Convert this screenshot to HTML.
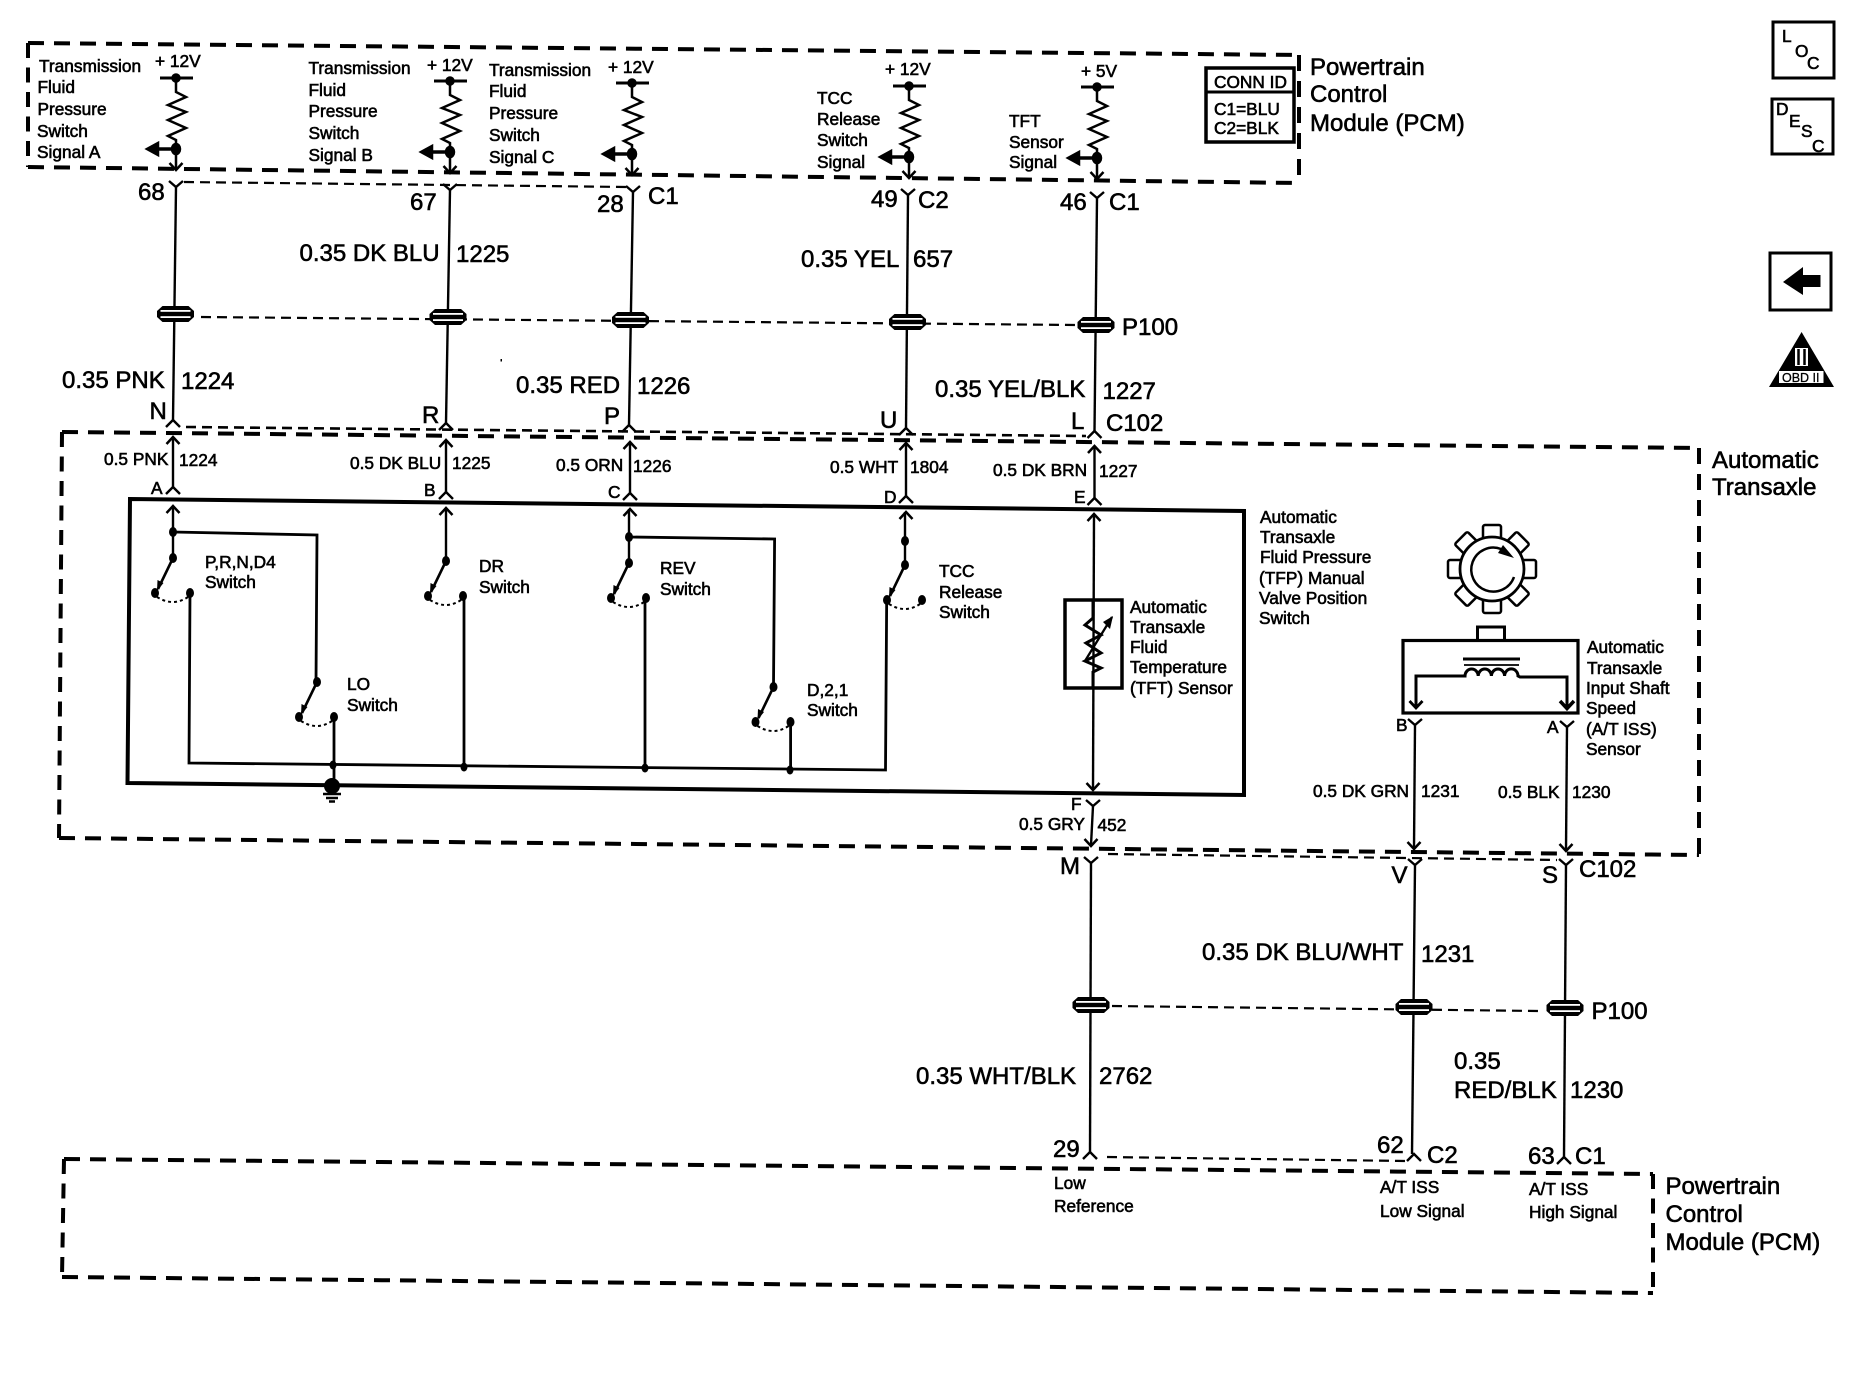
<!DOCTYPE html>
<html><head><meta charset="utf-8"><title>Transaxle wiring diagram</title>
<style>
html,body{margin:0;padding:0;background:#fff}
svg{display:block}
text{font-family:"Liberation Sans",sans-serif;fill:#000;stroke:#000;stroke-width:.6px;font-size:17.3px}
.l text,text.l{font-size:24px;stroke-width:.6px}
</style></head>
<body>
<svg width="1858" height="1376" viewBox="0 0 1858 1376" xmlns="http://www.w3.org/2000/svg">
<defs>
<g id="conn"><path d="M-13 -8H13L18.5 -3V3L13 8H-13L-18.5 3V-3Z" fill="#000"/><rect x="-15" y="-4" width="30" height="1.8" fill="#fff"/><rect x="-15" y="2.2" width="30" height="1.8" fill="#fff"/></g>
<path id="y" d="M-7 -6L0 0L7 -6" fill="none" stroke="#000" stroke-width="2.4"/>
<path id="ch" d="M-7 7L0 0L7 7" fill="none" stroke="#000" stroke-width="2.4"/>
<path id="au" d="M-6.5 7L0 0L6.5 7" fill="none" stroke="#000" stroke-width="2.5"/>
<path id="ad" d="M-6.5 -7L0 0L6.5 -7" fill="none" stroke="#000" stroke-width="2.5"/>
<g id="res" fill="none" stroke="#000" stroke-width="2.5">
<path d="M-16 0H17" stroke-width="3"/>
<path d="M0 0V14L10 19L-8 27L10 34L-8 42L10 50L-8 58L0 62V92"/>
<path d="M0 71H-18" stroke-width="3.4"/>
<path d="M-6.5 85L0 92L6.5 85"/>
<circle cx="0" cy="0" r="3.5" fill="#000"/>
<ellipse cx="0" cy="71" rx="4" ry="5" fill="#000"/>
<polygon points="-29,71 -18,65 -18,77" fill="#000"/>
</g>
<g id="sw">
<ellipse cx="0" cy="0" rx="4" ry="5" fill="#000"/>
<path d="M0 0L-15 31" stroke="#000" stroke-width="2.6" fill="none"/>
<polygon points="-16,33 -15.5,22 -9.5,25" fill="#000"/>
<ellipse cx="-18" cy="35" rx="4" ry="5" fill="#000"/>
<ellipse cx="17" cy="35" rx="4" ry="5" fill="#000"/>
<path d="M-16 39Q0 49 15 39" fill="none" stroke="#000" stroke-width="2" stroke-dasharray="3 3"/>
</g>
<rect id="tooth" x="-9" y="-44" width="18" height="16" rx="2" fill="#fff" stroke="#000" stroke-width="2.5"/>
</defs>

<!-- thick dashed module outlines -->
<g fill="none" stroke="#000" stroke-width="4" stroke-dasharray="16 10">
<path d="M28 43L1299 55"/><path d="M1299 55V183"/><path d="M28 167L1299 183"/><path d="M28 43V167" stroke-dasharray="15 9.500"/>
<path d="M62 432L1699 448"/><path d="M1699 448V855"/><path d="M59 838L1699 855"/><path d="M62 432L59 838" stroke-dasharray="15 9.500"/>
<path d="M64 1159L1653 1174"/><path d="M1653 1174V1293" stroke-dasharray="15 9.500"/><path d="M62 1277L1653 1293"/><path d="M64 1159L62 1277" stroke-dasharray="15 9.500"/>
</g>

<!-- thin dashed -->
<g fill="none" stroke="#000" stroke-width="2.200" stroke-dasharray="10 6">
<path d="M184 182L627 187"/>
<path d="M201 317L1075 325"/>
<path d="M186 427L1086 436" stroke-width="2.600"/>
<path d="M1108 854L1557 860"/>
<path d="M1112 1006L1540 1011"/>
<path d="M1107 1157L1405 1161"/>
</g>

<!-- main wires -->
<g fill="none" stroke="#000" stroke-width="2.400">
<path d="M176 187L173 420"/><path d="M450 190L446 423"/><path d="M633 192L629 425"/><path d="M908 195L906 428"/><path d="M1097 198L1094.500 431"/>
<path d="M173 437V487"/><path d="M446 440V492"/><path d="M630 442V493"/><path d="M906 443V496"/><path d="M1094.500 446V498"/>
<path d="M173 506V558"/><path d="M446 508V561"/><path d="M629 509V563"/><path d="M905 512V565"/><path d="M1094 514L1093 790"/>
<path d="M1093 806L1091 845"/><path d="M1091 863L1090 1152"/>
<path d="M1415 725L1414 848"/><path d="M1567 727L1566 850"/><path d="M1415 865L1412 1154"/><path d="M1566 865L1564 1157"/>
</g>
<use href="#y" x="176" y="187"/><use href="#y" x="450" y="190"/><use href="#y" x="633" y="192"/><use href="#y" x="908" y="195"/><use href="#y" x="1097" y="198"/>
<use href="#ch" x="173" y="420"/><use href="#ch" x="446" y="423"/><use href="#ch" x="629" y="425"/><use href="#ch" x="906" y="428"/><use href="#ch" x="1094.500" y="431"/>
<use href="#au" x="173" y="437"/><use href="#au" x="446" y="440"/><use href="#au" x="630" y="442"/><use href="#au" x="906" y="443"/><use href="#au" x="1094.500" y="446"/>
<use href="#ch" x="173" y="487"/><use href="#ch" x="446" y="492"/><use href="#ch" x="630" y="493"/><use href="#ch" x="906" y="496"/><use href="#ch" x="1094.500" y="498"/>
<use href="#au" x="173" y="506"/><use href="#au" x="446" y="508"/><use href="#au" x="630" y="509"/><use href="#au" x="906" y="512"/><use href="#au" x="1094" y="514"/>
<use href="#ad" x="1093" y="790"/><use href="#y" x="1093" y="806"/><use href="#ad" x="1091" y="846"/><use href="#y" x="1091" y="863"/>
<use href="#y" x="1415" y="725"/><use href="#y" x="1567" y="727"/><use href="#ad" x="1414" y="849"/><use href="#ad" x="1566" y="851"/>
<use href="#y" x="1415" y="865"/><use href="#y" x="1566" y="865"/>
<use href="#ch" x="1090" y="1152"/><use href="#ch" x="1414" y="1154"/><use href="#ch" x="1564" y="1157"/>

<!-- inline connectors -->
<use href="#conn" x="175.500" y="314"/><use href="#conn" x="448" y="317"/><use href="#conn" x="630.500" y="320"/><use href="#conn" x="907.500" y="322"/><use href="#conn" x="1096" y="325"/>
<use href="#conn" x="1091" y="1005"/><use href="#conn" x="1414" y="1007"/><use href="#conn" x="1565" y="1008"/>

<!-- pull-ups -->
<use href="#res" x="176" y="78"/><use href="#res" x="450" y="81"/><use href="#res" x="632" y="83"/><use href="#res" x="909" y="86"/><use href="#res" x="1097" y="87"/>

<!-- switch block -->
<path d="M130 499L1244 511L1244 795L127.500 783Z" fill="none" stroke="#000" stroke-width="4"/>
<g fill="none" stroke="#000" stroke-width="2.800">
<path d="M173 532L317 535L316 682"/>
<path d="M629 537L774.600 539L773.500 687"/>
<path d="M190 593L189 763L885.500 770L886.700 597"/>
<path d="M334 716V785"/><path d="M464 594V767"/><path d="M645 597V768"/><path d="M790.600 722V770"/>
</g>
<g fill="#000">
<ellipse cx="173" cy="532" rx="4" ry="5"/><ellipse cx="629" cy="537" rx="4" ry="5"/><ellipse cx="905" cy="541" rx="4" ry="5"/>
<ellipse cx="333" cy="765" rx="3.500" ry="4.500"/><ellipse cx="464" cy="767" rx="3.500" ry="4.500"/><ellipse cx="645" cy="768" rx="3.500" ry="4.500"/><ellipse cx="790" cy="770" rx="3.500" ry="4.500"/>
<ellipse cx="332" cy="786" rx="8" ry="8"/><rect x="500.500" y="359" width="1.500" height="2.500"/>
</g>
<use href="#sw" x="173" y="558"/><use href="#sw" x="446" y="561"/><use href="#sw" x="629" y="563"/><use href="#sw" x="905" y="565"/><use href="#sw" x="317" y="682"/><use href="#sw" x="773.500" y="687"/>
<g stroke="#000" stroke-width="2.500"><path d="M323 794H341"/><path d="M326 798H338"/><path d="M329 801.500H335"/></g>

<!-- TFT sensor -->
<rect x="1065" y="600" width="57" height="88" fill="none" stroke="#000" stroke-width="3.500"/>
<path d="M1085 661L1112 617" stroke="#000" stroke-width="2.300" fill="none"/>
<polygon points="1113,616 1103,622 1110,629" fill="#000"/>
<path d="M1093 600V618L1085 625L1101 635L1086 643L1101 653L1085 661L1101 668L1093 672V688" fill="none" stroke="#000" stroke-width="3"/>

<!-- ISS sensor -->
<use href="#tooth" transform="translate(1492 569)"/><use href="#tooth" transform="translate(1492 569) rotate(45)"/><use href="#tooth" transform="translate(1492 569) rotate(90)"/><use href="#tooth" transform="translate(1492 569) rotate(135)"/><use href="#tooth" transform="translate(1492 569) rotate(180)"/><use href="#tooth" transform="translate(1492 569) rotate(225)"/><use href="#tooth" transform="translate(1492 569) rotate(270)"/><use href="#tooth" transform="translate(1492 569) rotate(315)"/>
<circle cx="1492" cy="569" r="32" fill="#fff" stroke="#000" stroke-width="2.800"/>
<path d="M1514 577A22 22 0 1 1 1501 549" fill="none" stroke="#000" stroke-width="2.500"/>
<polygon points="1514,558 1498,553 1503,545" fill="#000"/>
<rect x="1477.500" y="627" width="27" height="13.500" fill="none" stroke="#000" stroke-width="3"/>
<rect x="1403" y="640.500" width="175" height="72.500" fill="none" stroke="#000" stroke-width="3.200"/>
<path d="M1463 659H1520" stroke="#000" stroke-width="3"/><path d="M1464 665H1519" stroke="#000" stroke-width="1.800"/>
<path d="M1416 708V676H1465A6.600 7 0 0 1 1478.200 676A6.600 7 0 0 1 1491.400 676A6.600 7 0 0 1 1504.600 676A6.600 7 0 0 1 1518 676L1520 677H1567V708" fill="none" stroke="#000" stroke-width="3"/>
<path d="M1409.500 701L1416 708L1422.500 701" fill="none" stroke="#000" stroke-width="2.800"/>
<path d="M1560 701L1567 708.500L1574 701" fill="none" stroke="#000" stroke-width="3.500"/>

<!-- CONN ID -->
<rect x="1206" y="68" width="88" height="74" fill="#fff" stroke="#000" stroke-width="3.500"/>
<path d="M1206 92H1294" stroke="#000" stroke-width="3"/>
<text x="1214" y="88">CONN ID</text><text x="1214" y="115">C1=BLU</text><text x="1214" y="134">C2=BLK</text>

<!-- side icons -->
<g fill="none" stroke="#000" stroke-width="3"><rect x="1773" y="22" width="61" height="56"/><rect x="1772" y="99" width="61" height="55"/><rect x="1770" y="253" width="61" height="57"/></g>
<text x="1782" y="42">L</text><text x="1795" y="57">O</text><text x="1807" y="69">C</text>
<text x="1776" y="115">D</text><text x="1789" y="127">E</text><text x="1801" y="137">S</text><text x="1812" y="152">C</text>
<polygon points="1783,282 1803,267 1803,275 1820.500,275 1820.500,287 1803,287 1803,295" fill="#000"/>
<polygon points="1801.600,332 1834,387 1769,387" fill="#000"/>
<rect x="1795" y="348" width="13" height="18" fill="#fff"/><path d="M1798.500 349V365M1804.500 349V365" stroke="#000" stroke-width="2.500"/>
<rect x="1779" y="371" width="44.500" height="12" fill="#fff"/>
<text x="1782" y="382" style="font-size:12.500px;stroke-width:.3px">OBD II</text>

<!-- small labels -->
<g>
<text x="155" y="67">+ 12V</text><text x="427" y="71">+ 12V</text><text x="608" y="73">+ 12V</text><text x="885" y="75">+ 12V</text><text x="1081" y="77">+ 5V</text>
<text x="39" y="72">Transmission</text><text x="37.500" y="93">Fluid</text><text x="37.500" y="115">Pressure</text><text x="37" y="137">Switch</text><text x="37" y="158">Signal A</text>
<text x="308.500" y="74">Transmission</text><text x="308.500" y="96">Fluid</text><text x="308.500" y="117">Pressure</text><text x="308.500" y="139">Switch</text><text x="308.500" y="161">Signal B</text>
<text x="489" y="76">Transmission</text><text x="489" y="97">Fluid</text><text x="489" y="119">Pressure</text><text x="489" y="141">Switch</text><text x="489" y="163">Signal C</text>
<text x="817" y="104">TCC</text><text x="817" y="125">Release</text><text x="817" y="146">Switch</text><text x="817" y="168">Signal</text>
<text x="1009" y="127">TFT</text><text x="1009" y="148">Sensor</text><text x="1009" y="168">Signal</text>

<text x="104" y="465">0.5 PNK</text><text x="179" y="466">1224</text>
<text x="350" y="469">0.5 DK BLU</text><text x="452" y="469">1225</text>
<text x="556" y="471">0.5 ORN</text><text x="633" y="472">1226</text>
<text x="830" y="473">0.5 WHT</text><text x="910" y="473">1804</text>
<text x="993" y="476">0.5 DK BRN</text><text x="1099" y="477">1227</text>
<text x="151" y="494">A</text><text x="424" y="496">B</text><text x="608" y="498">C</text><text x="884" y="503">D</text><text x="1074" y="503">E</text>

<text x="205" y="568">P,R,N,D4</text><text x="205" y="588">Switch</text>
<text x="479" y="572">DR</text><text x="479" y="593">Switch</text>
<text x="660" y="574">REV</text><text x="660" y="595">Switch</text>
<text x="347" y="690">LO</text><text x="347" y="711">Switch</text>
<text x="807" y="696">D,2,1</text><text x="807" y="716">Switch</text>
<text x="939" y="577">TCC</text><text x="939" y="598">Release</text><text x="939" y="618">Switch</text>

<text x="1130" y="613">Automatic</text><text x="1130" y="633">Transaxle</text><text x="1130" y="653">Fluid</text><text x="1130" y="673">Temperature</text><text x="1130" y="694">(TFT) Sensor</text>
<text x="1260" y="523">Automatic</text><text x="1260" y="543">Transaxle</text><text x="1260" y="563">Fluid Pressure</text><text x="1259" y="584">(TFP) Manual</text><text x="1259" y="604">Valve Position</text><text x="1259" y="624">Switch</text>
<text x="1587" y="653">Automatic</text><text x="1587" y="674">Transaxle</text><text x="1586" y="694">Input Shaft</text><text x="1586" y="714">Speed</text><text x="1586" y="735">(A/T ISS)</text><text x="1586" y="755">Sensor</text>

<text x="1396" y="731">B</text><text x="1547" y="733">A</text><text x="1071" y="810">F</text>
<text x="1019" y="830">0.5 GRY</text><text x="1097.500" y="831">452</text>
<text x="1313" y="797">0.5 DK GRN</text><text x="1421" y="797">1231</text>
<text x="1498" y="798">0.5 BLK</text><text x="1572" y="798">1230</text>

<text x="1054" y="1189">Low</text><text x="1054" y="1212">Reference</text>
<text x="1380" y="1193">A/T ISS</text><text x="1380" y="1217">Low Signal</text>
<text x="1529" y="1195">A/T ISS</text><text x="1529" y="1218">High Signal</text>
</g>

<!-- large labels -->
<g class="l">
<text x="1310" y="75">Powertrain</text><text x="1310" y="102">Control</text><text x="1310" y="131">Module (PCM)</text>
<text x="1712" y="468">Automatic</text><text x="1712" y="495">Transaxle</text>
<text x="1665.500" y="1194">Powertrain</text><text x="1665.500" y="1222">Control</text><text x="1665.500" y="1250">Module (PCM)</text>

<text x="138" y="200">68</text><text x="410" y="210">67</text><text x="597" y="212">28</text><text x="648" y="204">C1</text>
<text x="871" y="207">49</text><text x="918" y="208">C2</text><text x="1060" y="210">46</text><text x="1109" y="210">C1</text>
<text x="299.500" y="261">0.35 DK BLU</text><text x="456" y="262">1225</text>
<text x="801" y="267">0.35 YEL</text><text x="913" y="267">657</text>
<text x="62" y="388">0.35 PNK</text><text x="181" y="389">1224</text>
<text x="516" y="393">0.35 RED</text><text x="637" y="394">1226</text>
<text x="935" y="397">0.35 YEL/BLK</text><text x="1102.500" y="399">1227</text>
<text x="1122" y="335">P100</text>
<text x="149.500" y="419">N</text><text x="422" y="423">R</text><text x="604" y="424">P</text><text x="880" y="428">U</text><text x="1071" y="429">L</text><text x="1106" y="431">C102</text>
<text x="1060" y="874">M</text><text x="1391.500" y="883">V</text><text x="1542" y="883">S</text><text x="1579" y="877">C102</text>
<text x="1202" y="960">0.35 DK BLU/WHT</text><text x="1421" y="962">1231</text>
<text x="916" y="1084">0.35 WHT/BLK</text><text x="1099" y="1084">2762</text>
<text x="1591.500" y="1019">P100</text>
<text x="1454" y="1069">0.35</text><text x="1454" y="1098">RED/BLK</text><text x="1570" y="1098">1230</text>
<text x="1053" y="1157">29</text><text x="1377" y="1153">62</text><text x="1427" y="1163">C2</text><text x="1528" y="1164">63</text><text x="1575" y="1164">C1</text>
</g>
</svg>
</body></html>
